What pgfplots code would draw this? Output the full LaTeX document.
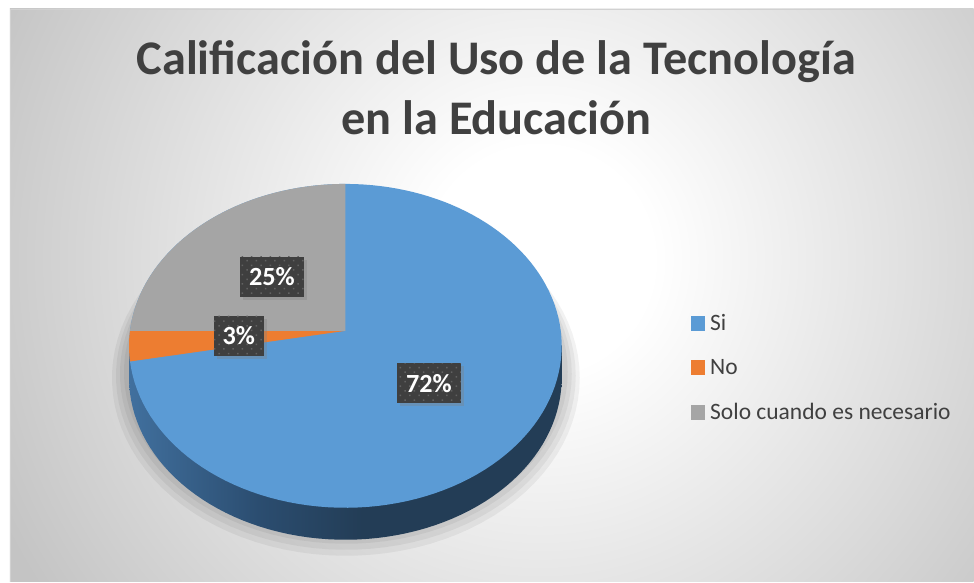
\documentclass[border=0pt]{standalone}
\usepackage{pgfplots}
\pgfplotsset{compat=1.18}
\usepackage{fontspec}
\setmainfont{Carlito}
\usetikzlibrary{shadows,patterns}
\definecolor{siC}{HTML}{5B9BD5}
\definecolor{noC}{HTML}{ED7D31}
\definecolor{soloC}{HTML}{A5A5A5}
\definecolor{txt}{HTML}{404040}
\definecolor{lab}{HTML}{3F3F3F}
\definecolor{bgout}{HTML}{C4C4C4}
\definecolor{bgmid}{HTML}{DADADA}
\definecolor{sideA}{HTML}{41709E}
\definecolor{sideB}{HTML}{2B4D70}
\definecolor{sideC}{HTML}{233D56}
\pgfdeclareradialshading{bgshade}{\pgfpoint{0bp}{0bp}}{color(0bp)=(white); color(4.4bp)=(white); color(16.4bp)=(bgmid); color(23.4bp)=(bgout); color(25bp)=(bgout); color(50bp)=(bgout)}
\pgfdeclarehorizontalshading{sideshade}{100bp}{color(0bp)=(sideA); color(25bp)=(sideA); color(40bp)=(sideB); color(52bp)=(sideC); color(100bp)=(sideC)}
\pgfdeclarepatternformonly{lbldots}{\pgfqpoint{-1pt}{-1pt}}{\pgfqpoint{10pt}{10pt}}{\pgfqpoint{9.3pt}{9.3pt}}{%
  \pgfpathrectangle{\pgfqpoint{0pt}{0pt}}{\pgfqpoint{1.5pt}{1.5pt}}%
  \pgfpathrectangle{\pgfqpoint{4.65pt}{4.65pt}}{\pgfqpoint{1.5pt}{1.5pt}}%
  \pgfusepath{fill}}
% data (percent)
\newcommand\vSi{72}
\newcommand\vNo{3}
\newcommand\vSolo{25}
% geometry of the 3D pie (pixels)
\newcommand\cx{345.5}
\newcommand\cy{251}
\newcommand\rx{215.5}
\newcommand\ry{160.6}
\newcommand\kk{0.0926}
\newcommand\dep{32}
\pgfmathsetmacro\aA{90}
\pgfmathsetmacro\aB{90-\vSi*3.6}
\pgfmathsetmacro\aC{\aB-\vNo*3.6}
\pgfmathsetmacro\aD{\aC-\vSolo*3.6}
\begin{document}
\begin{tikzpicture}
\begin{axis}[
  scale only axis, width=974pt, height=582pt,
  xmin=0, xmax=974, ymin=0, ymax=582,
  hide axis, clip=false,
  legend image code/.code={\fill[#1, draw=none] (0pt,-7.5pt) rectangle (14.5pt,7.5pt);},
  legend cell align=left,
  legend style={draw=none, fill=none, at={(axis cs:691,214)}, anchor=west,
    inner sep=0pt, outer sep=0pt, font=\fontsize{23.5}{28}\selectfont, text=txt,
    column sep=5pt, row sep=26.5pt,
    nodes={inner sep=0pt, text height=16pt, text depth=2pt}},
]
% background
\fill[white] (axis cs:0,0) rectangle (axis cs:974,582);
\begin{scope}
\clip (axis cs:10,0) rectangle (axis cs:974,573);
\shade[shading=bgshade] (axis cs:540,322) circle [radius=640pt];
\end{scope}
\draw[color=black!18, line width=0.8pt] (axis cs:974,573) -- (axis cs:10,573) -- (axis cs:10,0);
% shadow
\addplot[forget plot, draw=none, fill=black, fill opacity=0.05, domain=0:360, samples=100, variable=\t] ({346+234*cos(\t)},{204+178*sin(\t)}) -- cycle;
\addplot[forget plot, draw=none, fill=black, fill opacity=0.05, domain=0:360, samples=100, variable=\t] ({346+230*cos(\t)},{206+174*sin(\t)}) -- cycle;
\addplot[forget plot, draw=none, fill=black, fill opacity=0.05, domain=0:360, samples=100, variable=\t] ({346+226*cos(\t)},{208+170*sin(\t)}) -- cycle;
\addplot[forget plot, draw=none, fill=black, fill opacity=0.05, domain=0:360, samples=100, variable=\t] ({346+222*cos(\t)},{210+166*sin(\t)}) -- cycle;
% side wall
\addplot[forget plot, draw=none, shading=sideshade, domain=0:360, samples=150, variable=\t]
  ({\cx+\rx*cos(\t)/(1+\kk*sin(\t))},{\cy-\dep+\ry*sin(\t)/(1+\kk*sin(\t))}) -- cycle;
\addplot[forget plot, draw=none, shading=sideshade] coordinates {(129.1,236.0) (561.9,236.0) (561.9,204.0) (129.1,204.0)} -- cycle;
% top face
\addplot[forget plot, draw=none, fill=siC, domain=0:360, samples=150, variable=\t]
  ({\cx+\rx*cos(\t)/(1+\kk*sin(\t))},{\cy+\ry*sin(\t)/(1+\kk*sin(\t))}) -- cycle;
\addplot[forget plot, draw=none, fill=noC, domain=\aC:\aB, samples=20, variable=\t]
  ({\cx+\rx*cos(\t)/(1+\kk*sin(\t))},{\cy+\ry*sin(\t)/(1+\kk*sin(\t))}) -- (\cx,\cy) -- cycle;
\addplot[forget plot, draw=none, fill=soloC, domain=\aD:\aC, samples=80, variable=\t]
  ({\cx+\rx*cos(\t)/(1+\kk*sin(\t))},{\cy+\ry*sin(\t)/(1+\kk*sin(\t))}) -- (\cx,\cy) -- cycle;
% data labels
\tikzset{lbl/.style={fill=lab, text=white, font=\bfseries\fontsize{26.2}{30}\selectfont, minimum height=40pt, inner sep=0pt,
  drop shadow={shadow xshift=3pt, shadow yshift=-3pt, opacity=0.35},
  postaction={pattern=lbldots, pattern color=black!62}}}
\node[lbl, minimum width=64pt] at (axis cs:272,305) {25\%};
\node[lbl, minimum width=50pt] at (axis cs:239,246) {3\%};
\node[lbl, minimum width=64pt] at (axis cs:429,198.5) {72\%};
% title
\node[anchor=base, font=\bfseries\fontsize{48.3}{56}\selectfont, text=txt] at (axis cs:496.5,507) {Calificación del Uso de la Tecnología};
\node[anchor=base, font=\bfseries\fontsize{48.3}{56}\selectfont, text=txt] at (axis cs:496.5,447) {en la Educación};
% legend
\addlegendimage{fill=siC}
\addlegendentry{Si}
\addlegendimage{fill=noC}
\addlegendentry{No}
\addlegendimage{fill=soloC}
\addlegendentry{Solo cuando es necesario}
\end{axis}
\end{tikzpicture}
\end{document}
